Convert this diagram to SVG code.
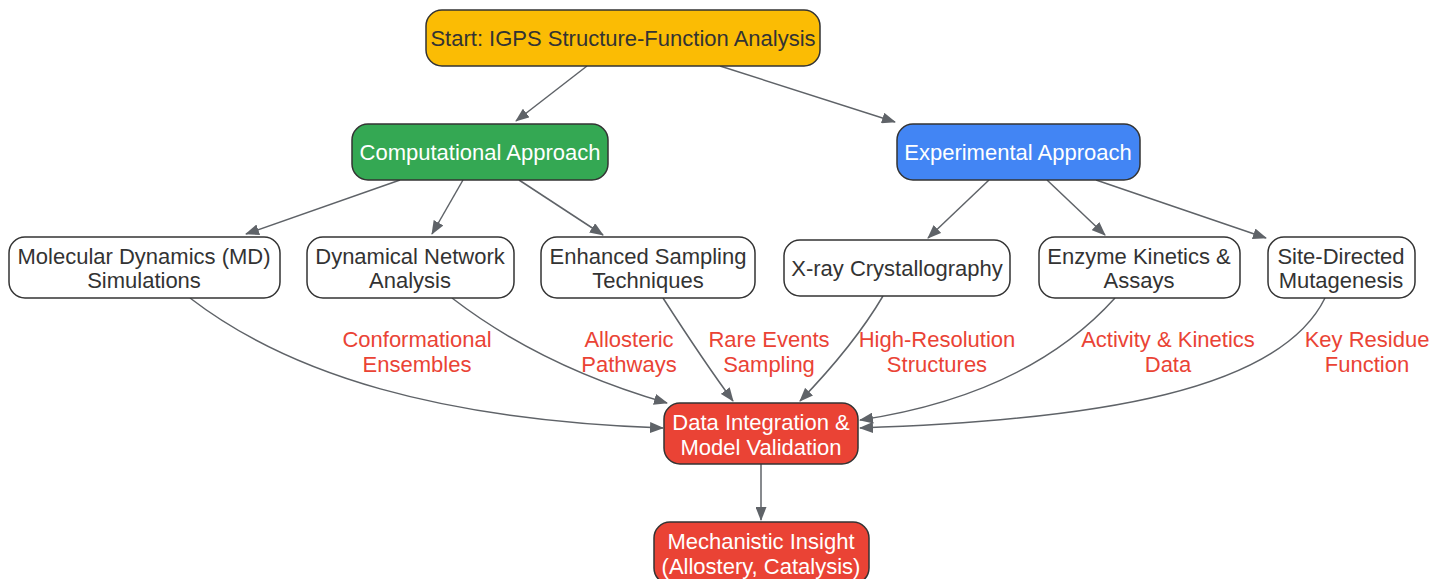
<svg xmlns="http://www.w3.org/2000/svg" width="1445" height="579" viewBox="0 0 1445 579">
<defs>
<marker id="arr" viewBox="0 0 14 11" refX="13" refY="5.5" markerWidth="14" markerHeight="11" markerUnits="userSpaceOnUse" orient="auto">
<path d="M0,0 L14,5.5 L0,11 z" fill="#5f6368"/>
</marker>
<style>
.n{stroke:#333;stroke-width:1.5}
.t{font-family:"Liberation Sans",Arial,sans-serif;font-size:22px;text-anchor:middle;fill:#333}
.w{fill:#fff}
.e{fill:none;stroke:#5f6368;stroke-width:1.5;marker-end:url(#arr)}
.l{font-family:"Liberation Sans",Arial,sans-serif;font-size:22px;text-anchor:middle;fill:#ea4335}
</style>
</defs>
<g id="connectors">
<path class="e" d="M587,66 L516,121"/>
<path class="e" d="M720,66 L895,122"/>
<path class="e" d="M400,180 L246,234"/>
<path class="e" d="M463,180 L432,234"/>
<path class="e" d="M519,180 L603,235"/>
<path class="e" d="M989,180 L928,238"/>
<path class="e" d="M1047,180 L1105,235"/>
<path class="e" d="M1096,180 L1266,238"/>
<path class="e" d="M190,298 C290,375 440,420 663,428"/>
<path class="e" d="M452,298 C500,335 570,375 667,403"/>
<path class="e" d="M663,298 C690,340 710,370 733,401"/>
<path class="e" d="M883,296 C860,335 830,370 800,401"/>
<path class="e" d="M1115,298 C1050,370 960,405 860,420"/>
<path class="e" d="M1325,298 C1280,390 1100,420 860,428"/>
<path class="e" d="M761,464 L761,520"/>
<text class="l" x="417" y="347">Conformational</text>
<text class="l" x="417" y="372">Ensembles</text>
<text class="l" x="629" y="347">Allosteric</text>
<text class="l" x="629" y="372">Pathways</text>
<text class="l" x="769" y="347">Rare Events</text>
<text class="l" x="769" y="372">Sampling</text>
<text class="l" x="937" y="347">High-Resolution</text>
<text class="l" x="937" y="372">Structures</text>
<text class="l" x="1168" y="347">Activity &amp; Kinetics</text>
<text class="l" x="1168" y="372">Data</text>
<text class="l" x="1367" y="347">Key Residue</text>
<text class="l" x="1367" y="372">Function</text>
</g>
<g id="start"><rect class="n" x="426" y="10" width="394" height="56" rx="16" fill="#fbbc04"/><text class="t" x="623" y="46">Start: IGPS Structure-Function Analysis</text></g>
<g id="comp"><rect class="n" x="352" y="124" width="256" height="56" rx="16" fill="#34a853"/><text class="t w" x="480" y="160">Computational Approach</text></g>
<g id="exp"><rect class="n" x="897" y="124" width="243" height="56" rx="16" fill="#4285f4"/><text class="t w" x="1018" y="160">Experimental Approach</text></g>
<g id="md"><rect class="n" x="9" y="237" width="271" height="61" rx="16" fill="#fff"/><text class="t" x="144" y="264">Molecular Dynamics (MD)</text><text class="t" x="144" y="288">Simulations</text></g>
<g id="dna"><rect class="n" x="307" y="237" width="207" height="61" rx="16" fill="#fff"/><text class="t" x="410" y="264">Dynamical Network</text><text class="t" x="410" y="288">Analysis</text></g>
<g id="enh"><rect class="n" x="541" y="237" width="214" height="61" rx="16" fill="#fff"/><text class="t" x="648" y="264">Enhanced Sampling</text><text class="t" x="648" y="288">Techniques</text></g>
<g id="xray"><rect class="n" x="784" y="240" width="226" height="56" rx="16" fill="#fff"/><text class="t" x="897" y="276">X-ray Crystallography</text></g>
<g id="enz"><rect class="n" x="1039" y="237" width="201" height="61" rx="16" fill="#fff"/><text class="t" x="1139" y="264">Enzyme Kinetics &amp;</text><text class="t" x="1139" y="288">Assays</text></g>
<g id="site"><rect class="n" x="1268" y="237" width="147" height="61" rx="16" fill="#fff"/><text class="t" x="1341" y="264">Site-Directed</text><text class="t" x="1341" y="288">Mutagenesis</text></g>
<g id="di"><rect class="n" x="664" y="403" width="194" height="61" rx="16" fill="#ea4335"/><text class="t w" x="761" y="430">Data Integration &amp;</text><text class="t w" x="761" y="455">Model Validation</text></g>
<g id="mech"><rect class="n" x="654" y="522" width="215" height="62" rx="16" fill="#ea4335"/><text class="t w" x="761" y="549">Mechanistic Insight</text><text class="t w" x="761" y="574">(Allostery, Catalysis)</text></g>
</svg>
